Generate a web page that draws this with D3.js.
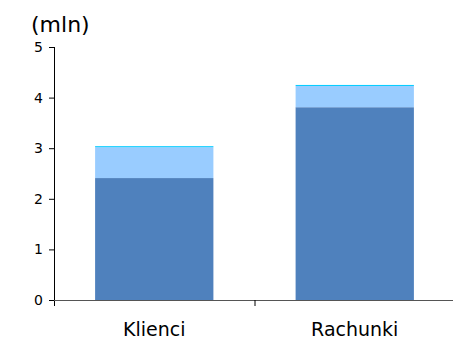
<!DOCTYPE html>
<html><head><meta charset="utf-8">
<script src="https://cdn.jsdelivr.net/npm/d3@7"></script>
<style>body{margin:0;background:#fff}svg{display:block}text{font-family:"DejaVu Sans",Verdana,sans-serif;fill:#000}</style>
</head><body>
<svg id="c" width="453" height="352"></svg>
<script>
const categories = ["Klienci", "Rachunki"];
const seriesBase = [2.41, 3.81];
const seriesMid = [0.61, 0.42];
const seriesTop = [0.02, 0.02];
const yTicks = [0, 1, 2, 3, 4, 5];
const colors = ["#4F81BD", "#99CCFF", "#00CCFF"];

const svg = d3.select("#c");
const x0 = 54, x1 = 455, yTop = 47, yBot = 300;
const x = d3.scaleBand().domain(categories).range([x0, x1]).paddingInner(0.41).paddingOuter(0.205);
const y = d3.scaleLinear().domain([0, 5]).range([yBot, yTop]);

const series = [seriesBase, seriesMid, seriesTop];
categories.forEach((c, i) => {
  let acc = 0;
  series.forEach((s, k) => {
    const v = s[i];
    svg.append("rect")
      .attr("x", x(c)).attr("width", x.bandwidth())
      .attr("y", y(acc + v)).attr("height", y(acc) - y(acc + v))
      .attr("fill", colors[k]);
    acc += v;
  });
});

// y axis
const yAxis = d3.axisLeft(y).tickValues(yTicks).tickSize(5).tickPadding(6).tickFormat(d3.format("d"));
const gy = svg.append("g").attr("transform", `translate(${x0},0)`).call(yAxis);
gy.select(".domain").remove();
gy.selectAll("text").style("font-size", "14px").style("font-family", "DejaVu Sans");
svg.append("line").attr("x1", x0 + 0.5).attr("x2", x0 + 0.5).attr("y1", yTop).attr("y2", yBot + 6).attr("stroke", "#000");
svg.append("line").attr("x1", x0 - 5).attr("x2", x0 + 0.5).attr("y1", yTop + 0.5).attr("y2", yTop + 0.5).attr("stroke", "#000");

// x axis
svg.append("line").attr("x1", x0).attr("x2", 453).attr("y1", yBot + 0.5).attr("y2", yBot + 0.5).attr("stroke", "#555");
const step = x.step();
svg.append("line").attr("x1", x0 + step + 0.5).attr("x2", x0 + step + 0.5).attr("y1", yBot).attr("y2", yBot + 6).attr("stroke", "#000");
categories.forEach(c => {
  svg.append("text").attr("x", x(c) + x.bandwidth() / 2).attr("y", 336)
    .attr("text-anchor", "middle").style("font-size", "19px").text(c);
});

svg.append("text").attr("x", 31).attr("y", 32).style("font-size", "22px").text("(mln)");
</script>
</body></html>
